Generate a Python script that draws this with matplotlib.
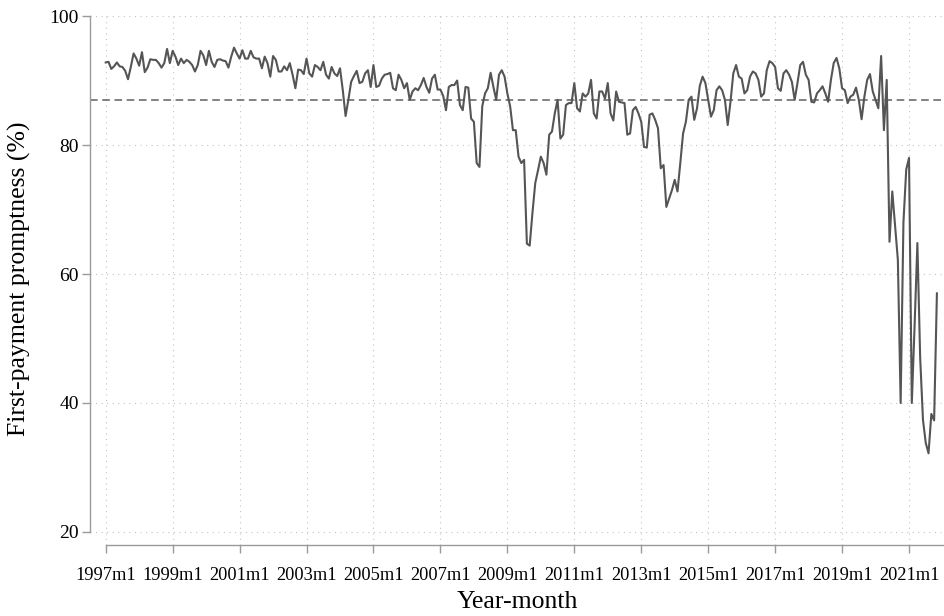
import numpy as np
import matplotlib.pyplot as plt

# Monthly first-payment promptness (%), starting 1997m1
promptness = [
    92.8, 92.9, 91.8, 92.2, 92.8, 92.2, 92.1, 91.5, 90.2, 92.1, 94.2, 93.4,  # 1997
    92.3, 94.4, 91.3, 92.0, 93.3, 93.2, 93.2, 92.7, 92.0, 92.7, 94.9, 92.7,  # 1998
    94.6, 93.7, 92.4, 93.4, 92.7, 93.2, 92.9, 92.4, 91.4, 92.4, 94.6, 93.9,  # 1999
    92.4, 94.6, 92.9, 92.1, 93.2, 93.3, 93.1, 93.0, 92.0, 93.7, 95.1, 94.2,  # 2000
    93.4, 94.7, 93.4, 93.4, 94.6, 93.6, 93.4, 93.4, 91.9, 93.7, 92.7, 90.6,  # 2001
    93.8, 93.2, 91.4, 91.4, 92.2, 91.6, 92.7, 90.9, 88.8, 91.7, 91.6, 91.0,  # 2002
    93.4, 91.1, 90.6, 92.4, 92.1, 91.6, 92.9, 90.9, 90.3, 92.1, 91.1, 90.7,  # 2003
    91.9, 88.5, 84.5, 87.0, 89.8, 90.7, 91.5, 89.6, 89.8, 91.1, 91.6, 89.0,  # 2004
    92.4, 89.0, 89.2, 90.3, 90.9, 91.0, 91.2, 88.8, 88.5, 90.9, 90.1, 88.8,  # 2005
    89.6, 87.0, 88.3, 88.8, 88.5, 89.3, 90.4, 89.0, 88.1, 90.3, 90.9, 88.6,  # 2006
    88.6, 87.6, 85.4, 89.0, 89.3, 89.3, 90.0, 86.2, 85.4, 89.0, 88.9, 84.1,  # 2007
    83.6, 77.2, 76.6, 86.0, 88.0, 88.8, 91.2, 89.0, 87.0, 90.9, 91.6, 90.6,  # 2008
    88.0, 86.0, 82.3, 82.3, 78.2, 77.2, 77.7, 64.7, 64.4, 69.5, 74.1, 76.1,  # 2009
    78.2, 77.2, 75.4, 81.6, 82.1, 84.9, 87.0, 81.0, 81.6, 86.2, 86.5, 86.5,  # 2010
    89.6, 85.7, 85.2, 88.0, 87.5, 88.0, 90.1, 84.9, 84.1, 88.3, 88.3, 87.2,  # 2011
    89.6, 84.9, 83.8, 88.3, 86.7, 86.6, 86.5, 81.6, 81.8, 85.4, 85.9, 84.9,  # 2012
    83.6, 79.7, 79.6, 84.7, 84.9, 83.9, 82.6, 76.4, 76.9, 70.4, 71.7, 73.0,  # 2013
    74.6, 72.8, 77.2, 81.8, 83.6, 87.0, 87.5, 83.9, 85.7, 89.2, 90.6, 89.6,  # 2014
    87.0, 84.4, 85.4, 88.5, 89.1, 88.5, 87.0, 83.1, 86.7, 91.1, 92.4, 90.6,  # 2015
    90.3, 88.0, 88.5, 90.6, 91.4, 91.1, 90.1, 87.5, 88.0, 91.6, 93.0, 92.7,  # 2016
    92.1, 88.8, 88.4, 91.1, 91.6, 90.9, 89.8, 87.0, 89.6, 92.4, 92.9, 90.9,  # 2017
    90.1, 86.7, 86.6, 88.0, 88.5, 89.1, 88.0, 86.7, 90.1, 92.7, 93.5, 91.9,  # 2018
    88.8, 88.5, 86.5, 87.5, 87.8, 88.9, 87.0, 84.0, 87.5, 90.1, 91.0, 88.3,  # 2019
    87.0, 85.7, 93.8, 82.3, 90.1, 65.0, 72.8, 67.4, 62.2, 40.0, 68.0, 76.2,  # 2020
    78.0, 40.0, 52.0, 64.8, 47.0, 37.4, 33.8, 32.2, 38.3, 37.3, 57.0,        # 2021
]

start_year = 1997
tick_years = list(range(1997, 2022, 2))
y_ticks = [20, 40, 60, 80, 100]
target_rate = 87.0

months = np.arange(len(promptness))
tick_pos = [(y - start_year) * 12 for y in tick_years]
tick_labels = [f"{y}m1" for y in tick_years]

plt.rcParams['font.family'] = ['Liberation Serif', 'DejaVu Serif']

fig = plt.figure(figsize=(9.45, 6.16), dpi=100)
ax = fig.add_axes([90 / 945, 1 - 545 / 616, 855 / 945, 532 / 616])

axis_grey = '#9a9a9a'
ax.set_xlim(-5.63, 300.9)
ax.set_ylim(17.98, 100.47)

# dotted grid at the ticks
ax.set_xticks(tick_pos)
ax.set_xticklabels(tick_labels)
ax.set_yticks(y_ticks)
ax.grid(True, linestyle=(0, (1, 4)), color='#c4c4c4', linewidth=0.8)
ax.set_axisbelow(True)

# series and reference line
ax.axhline(target_rate, color='#606060', linewidth=1.1, dashes=(5, 3))
ax.plot(months, promptness, color='#555555', linewidth=1.5)

for side in ['top', 'right']:
    ax.spines[side].set_visible(False)
ax.spines['left'].set_bounds(20, 100)
ax.spines['bottom'].set_bounds(0, 300.9)
for side in ['left', 'bottom']:
    ax.spines[side].set_color(axis_grey)
    ax.spines[side].set_linewidth(1.0)

ax.tick_params(direction='out', length=6, width=1.0, color=axis_grey)
ax.tick_params(axis='x', pad=10, labelsize=13.2)
ax.tick_params(axis='y', pad=2, labelsize=14)

ax.set_xlabel('Year-month', fontsize=18.5, labelpad=5)
ax.set_ylabel('First-payment promptness (%)', fontsize=18.5, labelpad=13)

fig.savefig('out.png', dpi=100)
